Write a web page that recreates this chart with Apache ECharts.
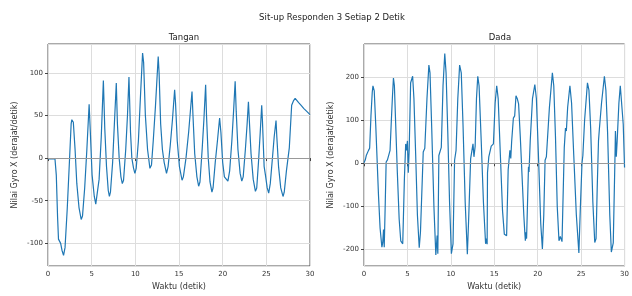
<!DOCTYPE html>
<html>
<head>
<meta charset="utf-8">
<script src="https://cdn.jsdelivr.net/npm/echarts@6/dist/echarts.min.js"></script>
<style>
  html, body { margin: 0; padding: 0; background: #fff; }
  #myChart { width: 632px; height: 296px; }
</style>
</head>
<body>
<div id="myChart"></div>
<script>
// Tangan (arm) sensor
var tanganWaktu = [0, 0.8, 0.95, 1.1, 1.2, 1.45, 1.6, 1.78, 1.95, 2.2, 2.45, 2.65, 2.73, 2.9, 2.98, 3.1, 3.3, 3.55, 3.8, 3.95,
    4.2, 4.45, 4.71, 4.85, 5.05, 5.3, 5.47, 5.6, 5.85, 6.1, 6.34, 6.5, 6.7, 6.9, 7.03, 7.15, 7.4, 7.6, 7.82, 7.95,
    8.15, 8.35, 8.51, 8.65, 8.9, 9.1, 9.27, 9.45, 9.6, 9.8, 9.95, 10.1, 10.35, 10.6, 10.83, 10.95, 11.15, 11.4, 11.67, 11.85,
    12.05, 12.3, 12.62, 12.72, 12.9, 13.1, 13.3, 13.57, 13.75, 14.0, 14.25, 14.5, 14.6, 14.8, 15.05, 15.35, 15.5, 15.8, 16.1, 16.49,
    16.6, 16.8, 17.05, 17.25, 17.4, 17.65, 17.85, 18.05, 18.15, 18.35, 18.55, 18.77, 18.9, 19.15, 19.4, 19.65, 19.8, 20.0, 20.2, 20.35,
    20.6, 20.8, 21.05, 21.25, 21.43, 21.55, 21.75, 22.0, 22.19, 22.35, 22.6, 22.8, 22.95, 23.05, 23.25, 23.5, 23.75, 23.9, 24.1, 24.3,
    24.47, 24.55, 24.75, 24.9, 25.1, 25.27, 25.45, 25.7, 25.9, 26.11, 26.2, 26.4, 26.65, 26.91, 27.05, 27.3, 27.63, 27.9, 28.1, 28.3,
    28.5, 28.7, 28.96, 29.3, 29.6, 30];
var tanganNilai = [-1, -1, -20, -70, -95, -100, -108, -114, -105, -60, -5, 40, 45, 42, 41, 10, -30, -58, -72, -68,
    -35, 10, 63, 30, -20, -45, -54, -52, -25, 25, 91, 35, -10, -38, -45, -40, -5, 40, 88, 40,
    0, -22, -30, -26, 10, 50, 95, 30, 0, -12, -18, -12, 20, 75, 123, 112, 50, 10, -12, -8,
    20, 60, 119, 100, 40, 10, -5, -18, -10, 15, 45, 80, 65, 20, -10, -26, -22, 0, 30, 78,
    50, 5, -22, -33, -28, 10, 45, 86, 50, 0, -28, -40, -35, -5, 20, 47, 30, -5, -22, -20,
    -27, -15, 20, 55, 90, 55, 10, -18, -27, -22, 10, 40, 66, 45, 5, -25, -39, -35, -5, 30,
    62, 45, -10, -20, -35, -41, -30, 0, 25, 44, 25, -10, -35, -45, -40, -15, 12, 62, 67, 70,
    69, 65, 62, 58, 55, 51];

// Dada (chest) sensor
var dadaWaktu = [0, 0.15, 0.26, 0.52, 0.65, 0.8, 0.95, 1.03, 1.18, 1.35, 1.67, 1.85, 2.06, 2.15, 2.25, 2.33, 2.45, 2.55, 2.7, 3.0,
    3.15, 3.28, 3.39, 3.5, 3.65, 3.84, 4.05, 4.23, 4.46, 4.65, 4.8, 4.9, 5.0, 5.1, 5.2, 5.37, 5.45, 5.6, 5.75, 5.95,
    6.15, 6.36, 6.5, 6.82, 7.0, 7.25, 7.47, 7.6, 7.8, 8.05, 8.27, 8.42, 8.5, 8.62, 8.9, 9.1, 9.3, 9.45, 9.65, 9.85,
    10.06, 10.25, 10.43, 10.6, 10.8, 11.01, 11.2, 11.4, 11.65, 11.9, 12.05, 12.28, 12.55, 12.66, 12.8, 12.95, 13.1, 13.25, 13.5, 13.75,
    14.0, 14.1, 14.18, 14.22, 14.37, 14.65, 14.9, 15.1, 15.28, 15.45, 15.7, 15.95, 16.16, 16.42, 16.6, 16.8, 16.9, 17.0, 17.2, 17.35,
    17.5, 17.65, 17.8, 18.0, 18.2, 18.4, 18.53, 18.58, 18.65, 18.72, 18.94, 19.0, 19.14, 19.4, 19.67, 19.85, 20.1, 20.35, 20.54, 20.7,
    20.85, 21.0, 21.1, 21.35, 21.69, 21.85, 22.05, 22.25, 22.45, 22.6, 22.8, 23.06, 23.2, 23.3, 23.45, 23.71, 23.9, 24.15, 24.45, 24.74,
    24.9, 25.1, 25.2, 25.4, 25.73, 25.9, 26.1, 26.35, 26.57, 26.72, 26.85, 27.0, 27.1, 27.35, 27.68, 27.85, 28.05, 28.3, 28.48, 28.7,
    28.9, 28.95, 29.05, 29.15, 29.35, 29.51, 29.7, 29.85, 30];
var dadaNilai = [1, 8, 18, 30, 35, 110, 165, 180, 168, 90, -75, -150, -195, -185, -154, -195, -90, 3, 8, 30,
    100, 157, 198, 180, 90, -22, -130, -180, -187, -37, 45, 30, 52, -22, 30, 187, 190, 202, 150, 20,
    -120, -196, -160, 26, 35, 150, 228, 210, 80, -100, -213, -168, -210, 18, 37, 180, 255, 210, 70, -90,
    -210, -187, 7, 30, 150, 228, 210, 90, -90, -211, -130, 11, 45, 15, 40, 150, 202, 180, 50, -90,
    -187, -175, -188, -22, 15, 40, 45, 140, 180, 150, 20, -110, -165, -168, -15, 30, 11, 50, 105, 110,
    157, 150, 138, 60, -30, -120, -165, -180, -160, -175, -8, -20, 52, 150, 183, 150, 10, -140, -199, -120,
    7, 15, 11, 130, 210, 180, 60, -100, -180, -170, -182, 37, 82, 75, 130, 180, 140, 20, -120, -208,
    -110, 0, 18, 100, 187, 170, 80, -90, -184, -175, -60, 52, 79, 140, 202, 170, 70, -120, -206, -185,
    15, 75, 15, 52, 140, 180, 180, 90, -10];

function pasangkan(waktu, nilai) {
    var hasil = [];
    for (var i = 0; i < waktu.length; i++) {
        hasil.push([waktu[i], nilai[i]]);
    }
    return hasil;
}

var tekstil = { color: '#333', fontSize: 8, fontFamily: 'DejaVu Sans' };
var judulGaya = { color: '#222', fontSize: 8.5, fontWeight: 'normal', fontFamily: 'DejaVu Sans' };

function sumbuX(idx) {
    return {
        type: 'value', gridIndex: idx, min: 0, max: 30, interval: 5,
        name: 'Waktu (detik)', nameLocation: 'middle', nameGap: 17,
        nameTextStyle: tekstil,
        axisLine: { show: false },
        axisTick: { show: true, length: 3, lineStyle: { color: '#444' } },
        axisLabel: { color: '#333', fontSize: 7, fontFamily: 'DejaVu Sans', margin: 5 },
        splitLine: { show: true, lineStyle: { color: '#ddd', width: 1 } }
    };
}

function sumbuY(idx, min, max) {
    return {
        type: 'value', gridIndex: idx, min: min, max: max, splitNumber: 5,
        name: 'Nilai Gyro X (derajat/detik)', nameLocation: 'middle', nameGap: 29,
        nameTextStyle: tekstil,
        axisLine: { show: false },
        axisTick: { show: true, length: 3, lineStyle: { color: '#444' } },
        axisLabel: { color: '#333', fontSize: 7, fontFamily: 'DejaVu Sans', margin: 5,
            showMinLabel: false, showMaxLabel: false },
        splitLine: { show: true, lineStyle: { color: '#ddd', width: 1 } }
    };
}

function garisNol() {
    return {
        silent: true, symbol: ['none', 'none'], symbolSize: 0, label: { show: false },
        lineStyle: { color: '#999', type: 'solid', width: 1 },
        data: [{ yAxis: 0 }]
    };
}

var myChart = echarts.init(document.getElementById('myChart'));
var option = {
    backgroundColor: '#fff',
    animation: false,
    title: [
        { text: 'Sit-up Responden 3 Setiap 2 Detik', left: 327, top: 8, textAlign: 'center', textStyle: judulGaya },
        { text: 'Tangan', left: 179, top: 28, textAlign: 'center', textStyle: judulGaya },
        { text: 'Dada', left: 495, top: 28, textAlign: 'center', textStyle: judulGaya }
    ],
    grid: [
        { left: 48, right: 322, top: 44, bottom: 23, show: true, borderColor: '#555', borderWidth: 1, backgroundColor: 'transparent' },
        { left: 364, right: 6, top: 44, bottom: 22, show: true, borderColor: '#555', borderWidth: 1, backgroundColor: 'transparent' }
    ],
    xAxis: [sumbuX(0), sumbuX(1)],
    yAxis: [sumbuY(0, -126.5, 133.7), sumbuY(1, -238.5, 277)],
    series: [
        {
            name: 'Tangan', type: 'line', xAxisIndex: 0, yAxisIndex: 0,
            data: pasangkan(tanganWaktu, tanganNilai),
            showSymbol: false, symbol: 'none',
            lineStyle: { color: '#1f77b4', width: 1.2 },
            markLine: garisNol()
        },
        {
            name: 'Dada', type: 'line', xAxisIndex: 1, yAxisIndex: 1,
            data: pasangkan(dadaWaktu, dadaNilai),
            showSymbol: false, symbol: 'none',
            lineStyle: { color: '#1f77b4', width: 1.2 },
            markLine: garisNol()
        }
    ]
};
myChart.setOption(option);
</script>
</body>
</html>
